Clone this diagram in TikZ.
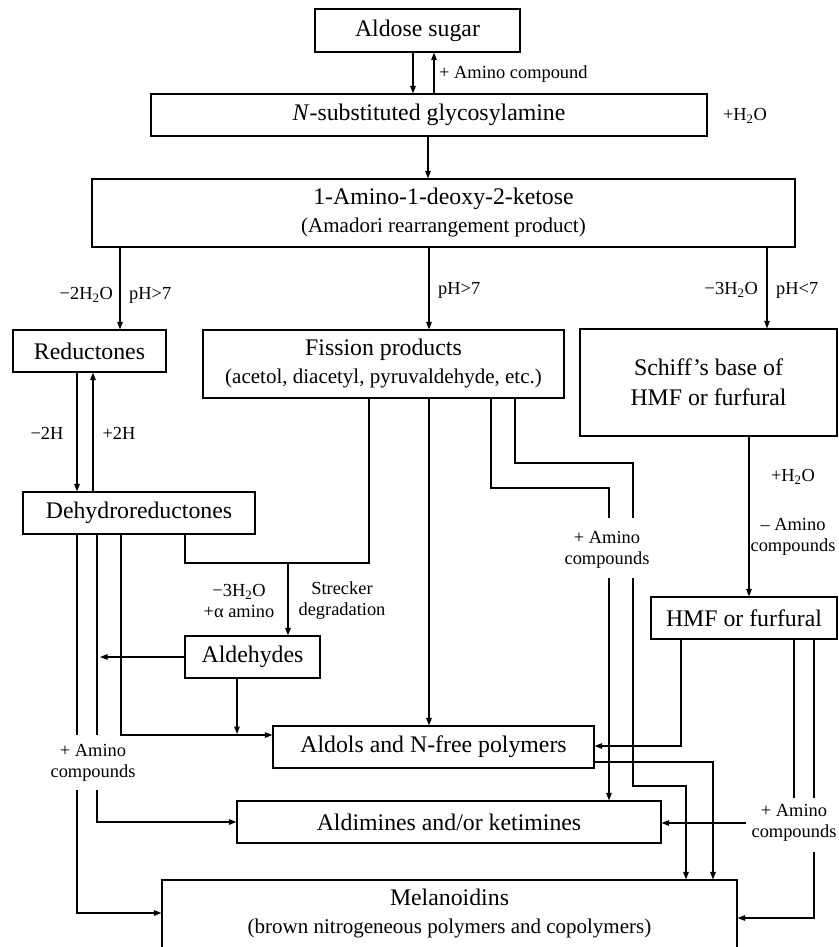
\documentclass[tikz,border=0pt]{standalone}
\usepackage{fontspec}
\setmainfont{Liberation Serif}
\usetikzlibrary{arrows.meta}
\newcommand\mainf{\fontsize{23.8}{28}\selectfont}
\newcommand\subf{\fontsize{21}{26}\selectfont}
\newcommand\smallf{\fontsize{18.4}{21}\selectfont}
\begin{document}
\begin{tikzpicture}[x=1pt,y=-1pt,
  box/.style={draw, line width=1.1pt, inner sep=0pt, font=\mainf, align=center},
  lbl/.style={font=\smallf, inner sep=0pt, align=center},
  con/.style={line width=1.1pt},
  arr/.style={con, -{Triangle[length=7.5pt,width=5.5pt]}}]
\clip (0,0) rectangle (838,947);
% boxes
\node[box, minimum width=205, minimum height=43] (aldose) at (417.5,30.5) {Aldose sugar};
\node[box, minimum width=556, minimum height=42] (nsub) at (429,115) {\textit{N}-substituted glycosylamine};
\node[box, minimum width=703, minimum height=68] (amad) at (443.5,213) {1-Amino-1-deoxy-2-ketose\\{\subf (Amadori rearrangement product)}};
\node[box, minimum width=153, minimum height=42] (red) at (89.5,351) {Reductones};
\node[box, minimum width=361, minimum height=68] (fis) at (383.5,364) {Fission products\\{\subf (acetol, diacetyl, pyruvaldehyde, etc.)}};
\node[box, minimum width=257, minimum height=107] (schiff) at (708.5,382.5) {Schiff’s base of\\[2pt]HMF or furfural};
\node[box, minimum width=232, minimum height=42] (dehy) at (139,513) {Dehydroreductones};
\node[box, minimum width=135, minimum height=42] (aldh) at (252.5,657) {Aldehydes};
\node[box, minimum width=186, minimum height=42] (hmf) at (744,618) {HMF or furfural};
\node[box, minimum width=321, minimum height=42] (aldol) at (433.5,747) {Aldols and N-free polymers};
\node[box, minimum width=424, minimum height=42] (aldim) at (449,822) {Aldimines and/or ketimines};
\node[box, minimum width=575, minimum height=90] (mel) at (449.5,925) {};
\node[lbl, font=\mainf] (meltxt) at (449.5,913) {Melanoidins\\{\subf (brown nitrogeneous polymers and copolymers)}};
% labels
\node[lbl, anchor=west] (lamc) at (439,74) {+ Amino compound};
\node[lbl] (lhtwo) at (745,116) {+H\textsubscript{2}O};
\node[lbl, anchor=east] (lmtwo) at (113,295) {−2H\textsubscript{2}O};
\node[lbl, anchor=west] (lpha) at (129,295) {pH>7};
\node[lbl, anchor=west] (lphb) at (438,290) {pH>7};
\node[lbl, anchor=east] (lmthree) at (758,290) {−3H\textsubscript{2}O};
\node[lbl, anchor=west] (lphc) at (776,290) {pH<7};
\node[lbl] (lmh) at (47,433) {−2H};
\node[lbl] (lph) at (119,433) {+2H};
\node[lbl] (lstra) at (239,601) {−3H\textsubscript{2}O\\+α amino};
\node[lbl] (lstrb) at (342,601) {Strecker\\degradation};
\node[lbl] (lamL) at (93,763) {+ Amino\\compounds};
\node[lbl] (lamM) at (607,550) {+ Amino\\compounds};
\node[lbl] (lhtwob) at (793,477) {+H\textsubscript{2}O};
\node[lbl] (lmam) at (793,537) {– Amino\\compounds};
\node[lbl] (lamR) at (794,823) {+ Amino\\compounds};
% named free ends / bends
\coordinate (j) at (288,563);
\coordinate (ga) at (77,735);  \coordinate (gb) at (77,790);
\coordinate (gc) at (97,735);  \coordinate (gd) at (97,790);
\coordinate (ge) at (609,518); \coordinate (gf) at (609,578);
\coordinate (gg) at (633,518); \coordinate (gh) at (633,578);
\coordinate (gi) at (794,798); \coordinate (gj) at (814,798);
\coordinate (gk) at (746,823); \coordinate (gl) at (814,852);
\coordinate (ta) at (100,657); \coordinate (tb) at (237,734);
% connectors
\draw[arr] (413,0 |- aldose.south) -- (413,0 |- nsub.north);
\draw[arr] (434,0 |- nsub.north) -- (434,0 |- aldose.south);
\draw[arr] (428,0 |- nsub.south) -- (428,0 |- amad.north);
\draw[arr] (120,0 |- amad.south) -- (120,0 |- red.north);
\draw[arr] (429,0 |- amad.south) -- (429,0 |- fis.north);
\draw[arr] (767,0 |- amad.south) -- (767,0 |- schiff.north);
\draw[arr] (77,0 |- red.south) -- (77,0 |- dehy.north);
\draw[arr] (93,0 |- dehy.north) -- (93,0 |- red.south);
\draw[con] (185,0 |- dehy.south) |- (j);
\draw[con] (369,0 |- fis.south) |- (j);
\draw[arr] (j) -- (j |- aldh.north);
\draw[con] (77,0 |- dehy.south) -- (ga);
\draw[con] (97,0 |- dehy.south) -- (gc);
\draw[arr] (121,0 |- dehy.south) |- (aldol.west |- 0,735);
\draw[arr] (gb) |- (mel.west |- 0,913);
\draw[arr] (gd) |- (aldim.west |- 0,822);
\draw[arr] (aldh.west) -- (ta);
\draw[arr] (237,0 |- aldh.south) -- (tb);
\draw[arr] (429,0 |- fis.south) -- (429,0 |- aldol.north);
\draw[con] (491,0 |- fis.south) |- (609,488) -- (ge);
\draw[con] (515,0 |- fis.south) |- (633,463) -- (gg);
\draw[arr] (gf) -- (gf |- aldim.north);
\draw[arr] (gh) |- (686,786) -- (686,0 |- mel.north);
\draw[arr] (aldol.east |- 0,762) -| (713,0 |- mel.north);
\draw[arr] (749,0 |- schiff.south) -- (749,0 |- hmf.north);
\draw[arr] (681,0 |- hmf.south) |- (aldol.east |- 0,746);
\draw[con] (794,0 |- hmf.south) -- (gi);
\draw[con] (814,0 |- hmf.south) -- (gj);
\draw[arr] (gk) -- (aldim.east |- gk);
\draw[arr] (gl) |- (mel.east |- 0,918);
\end{tikzpicture}
\end{document}
